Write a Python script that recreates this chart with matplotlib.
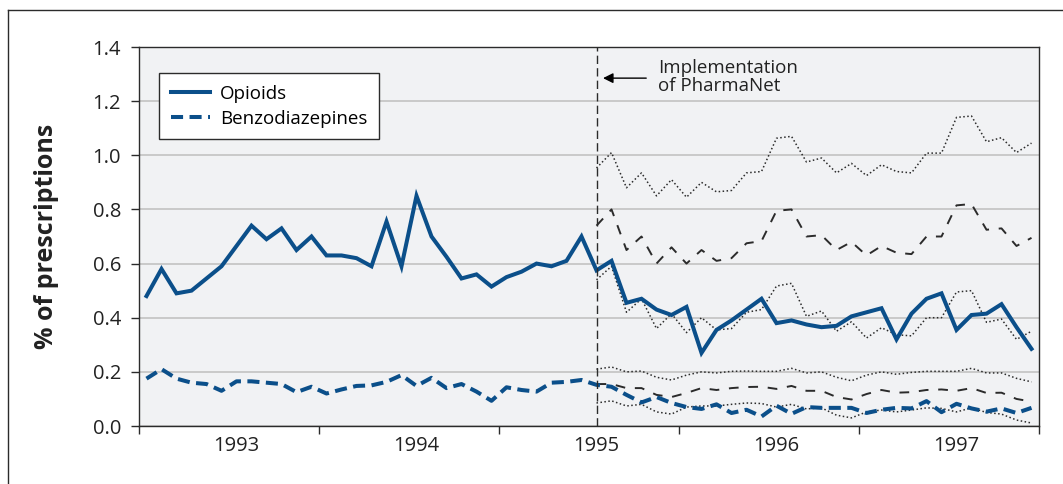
import numpy as np
import matplotlib
matplotlib.use("Agg")
import matplotlib.pyplot as plt
from matplotlib.lines import Line2D

plt.rcParams['font.family'] = ['Open Sans', 'DejaVu Sans']

# months relative to January 1995 (implementation of PharmaNet)
months = np.arange(-30, 30)
post_months = np.arange(0, 30)

opioids = [0.48, 0.58, 0.49, 0.50, 0.545, 0.59, 0.665, 0.74, 0.69, 0.73,
           0.65, 0.70, 0.63, 0.63, 0.62, 0.59, 0.755, 0.59, 0.85, 0.70,
           0.625, 0.545, 0.56, 0.515, 0.55, 0.57, 0.60, 0.59, 0.61, 0.70,
           0.575, 0.61, 0.455, 0.47, 0.43, 0.41, 0.44, 0.27, 0.355, 0.39,
           0.43, 0.47, 0.38, 0.39, 0.375, 0.365, 0.37, 0.405, 0.42, 0.435,
           0.32, 0.415, 0.47, 0.49, 0.355, 0.41, 0.415, 0.45, 0.365, 0.285]

benzos = [0.175, 0.21, 0.175, 0.16, 0.155, 0.13, 0.165, 0.165, 0.16, 0.155,
          0.125, 0.145, 0.12, 0.135, 0.148, 0.15, 0.163, 0.188, 0.148, 0.178,
          0.14, 0.155, 0.127, 0.093, 0.143, 0.133, 0.127, 0.16, 0.163, 0.17,
          0.152, 0.145, 0.115, 0.087, 0.107, 0.085, 0.07, 0.063, 0.08, 0.048,
          0.06, 0.035, 0.075, 0.045, 0.07, 0.067, 0.067, 0.067, 0.048, 0.06,
          0.067, 0.065, 0.092, 0.051, 0.082, 0.065, 0.053, 0.065, 0.048, 0.067]

# forecasts after PharmaNet (expected, upper and lower limits)
opi_fc = [0.74, 0.80, 0.65, 0.70, 0.60, 0.66, 0.60, 0.65, 0.61, 0.62,
          0.675, 0.683, 0.795, 0.80, 0.70, 0.705, 0.65, 0.68, 0.63, 0.665,
          0.64, 0.635, 0.70, 0.70, 0.815, 0.82, 0.725, 0.73, 0.665, 0.695]
opi_hi = [0.953, 1.01, 0.88, 0.935, 0.85, 0.91, 0.845, 0.90, 0.865, 0.87,
          0.935, 0.94, 1.063, 1.07, 0.975, 0.99, 0.935, 0.97, 0.925, 0.965,
          0.94, 0.935, 1.008, 1.008, 1.14, 1.145, 1.05, 1.065, 1.01, 1.045]
opi_lo = [0.54, 0.59, 0.42, 0.47, 0.36, 0.415, 0.345, 0.40, 0.355, 0.36,
          0.42, 0.43, 0.517, 0.527, 0.405, 0.425, 0.35, 0.385, 0.325, 0.363,
          0.337, 0.333, 0.40, 0.40, 0.495, 0.50, 0.383, 0.395, 0.32, 0.35]
ben_fc = [0.155, 0.155, 0.14, 0.14, 0.115, 0.107, 0.122, 0.14, 0.133, 0.14,
          0.144, 0.145, 0.137, 0.148, 0.13, 0.13, 0.107, 0.098, 0.118, 0.133,
          0.123, 0.125, 0.133, 0.135, 0.13, 0.14, 0.122, 0.123, 0.10, 0.09]
ben_hi = [0.21, 0.218, 0.2, 0.203, 0.18, 0.17, 0.188, 0.2, 0.196, 0.202,
          0.203, 0.202, 0.202, 0.213, 0.196, 0.2, 0.18, 0.167, 0.188, 0.2,
          0.191, 0.198, 0.202, 0.202, 0.202, 0.213, 0.196, 0.196, 0.176, 0.163]
ben_lo = [0.085, 0.093, 0.074, 0.08, 0.052, 0.044, 0.07, 0.074, 0.074, 0.08,
          0.085, 0.083, 0.07, 0.08, 0.063, 0.067, 0.04, 0.03, 0.052, 0.059,
          0.052, 0.059, 0.067, 0.065, 0.052, 0.067, 0.05, 0.044, 0.022, 0.011]

year_labels = ['1993', '1994', '1995', '1996', '1997']
year_pos = [-24, -12, 0, 12, 24]
boundary_pos = [-30.5, -18.5, -6.5, 5.5, 17.5, 29.5]

blue = '#0b4f8a'
dark = '#2b2b2b'

fig = plt.figure(figsize=(10.63, 4.84), dpi=100)
ax = fig.add_axes([139 / 1063, 1 - 426 / 484, 900 / 1063, 379 / 484])
ax.set_facecolor('#f1f2f4')

# outer frame of the figure box
fig.add_artist(Line2D([8 / 1063, 8 / 1063], [0, 1 - 10 / 484], color=dark, lw=1))
fig.add_artist(Line2D([8 / 1063, 1], [1 - 10 / 484, 1 - 10 / 484], color=dark, lw=1))

ax.set_xlim(-30.5, 29.5)
ax.set_ylim(0, 1.4)
ax.set_yticks(np.arange(0, 1.41, 0.2))
ax.set_yticklabels(['%.1f' % v for v in np.arange(0, 1.41, 0.2)])
ax.yaxis.grid(True, color='#c6c6c6', lw=1.3)
ax.set_axisbelow(True)

ax.set_xticks(boundary_pos)
ax.set_xticklabels([])
ax.set_xticks(year_pos, minor=True)
ax.set_xticklabels(year_labels, minor=True)
ax.tick_params(axis='x', which='major', direction='out', length=6, width=1, color=dark)
ax.tick_params(axis='x', which='minor', length=0, pad=7, labelsize=14.5, labelcolor='#222')
ax.tick_params(axis='y', direction='out', length=6, width=1, color=dark,
               pad=7, labelsize=14.5, labelcolor='#222')
for s in ax.spines.values():
    s.set_color(dark)
    s.set_linewidth(1)

ax.set_ylabel('% of prescriptions', fontsize=18, fontweight='bold', labelpad=24,
              color='#222')

# forecast bands
ax.plot(post_months, opi_hi, color=dark, lw=1.1, ls=(0, (1, 1.6)))
ax.plot(post_months, opi_lo, color=dark, lw=1.1, ls=(0, (1, 1.6)))
ax.plot(post_months, opi_fc, color=dark, lw=1.4, ls=(0, (5, 5)))
ax.plot(post_months, ben_hi, color=dark, lw=1.1, ls=(0, (1, 1.6)))
ax.plot(post_months, ben_lo, color=dark, lw=1.1, ls=(0, (1, 1.6)))
ax.plot(post_months, ben_fc, color=dark, lw=1.4, ls=(0, (5, 5)))

ax.plot(months, opioids, color=blue, lw=2.9, label='Opioids', solid_joinstyle='miter')
ax.plot(months, benzos, color=blue, lw=2.9, ls=(0, (3, 1.6)), label='Benzodiazepines')

ax.axvline(0, color=dark, lw=1, ls=(0, (6, 3)))

ax.annotate('', xy=(0.25, 1.285), xytext=(3.5, 1.285),
            arrowprops=dict(arrowstyle='-|>', color='black', lw=1, mutation_scale=15))
ax.text(4.1, 1.29, 'Implementation\nof PharmaNet', fontsize=13.5, color='#222',
        va='center', ha='left', linespacing=1.0)

leg = ax.legend(loc='upper left', bbox_to_anchor=(20 / 900, 1 - 26 / 379),
                borderaxespad=0, frameon=True, fancybox=False, fontsize=13.5,
                handlelength=2.1, borderpad=0.62, labelspacing=0.38,
                handletextpad=0.55)
leg.get_frame().set_edgecolor(dark)
leg.get_frame().set_linewidth(1)
leg.get_frame().set_facecolor('white')
leg.get_frame().set_alpha(1)

fig.savefig('out.png', dpi=100)
